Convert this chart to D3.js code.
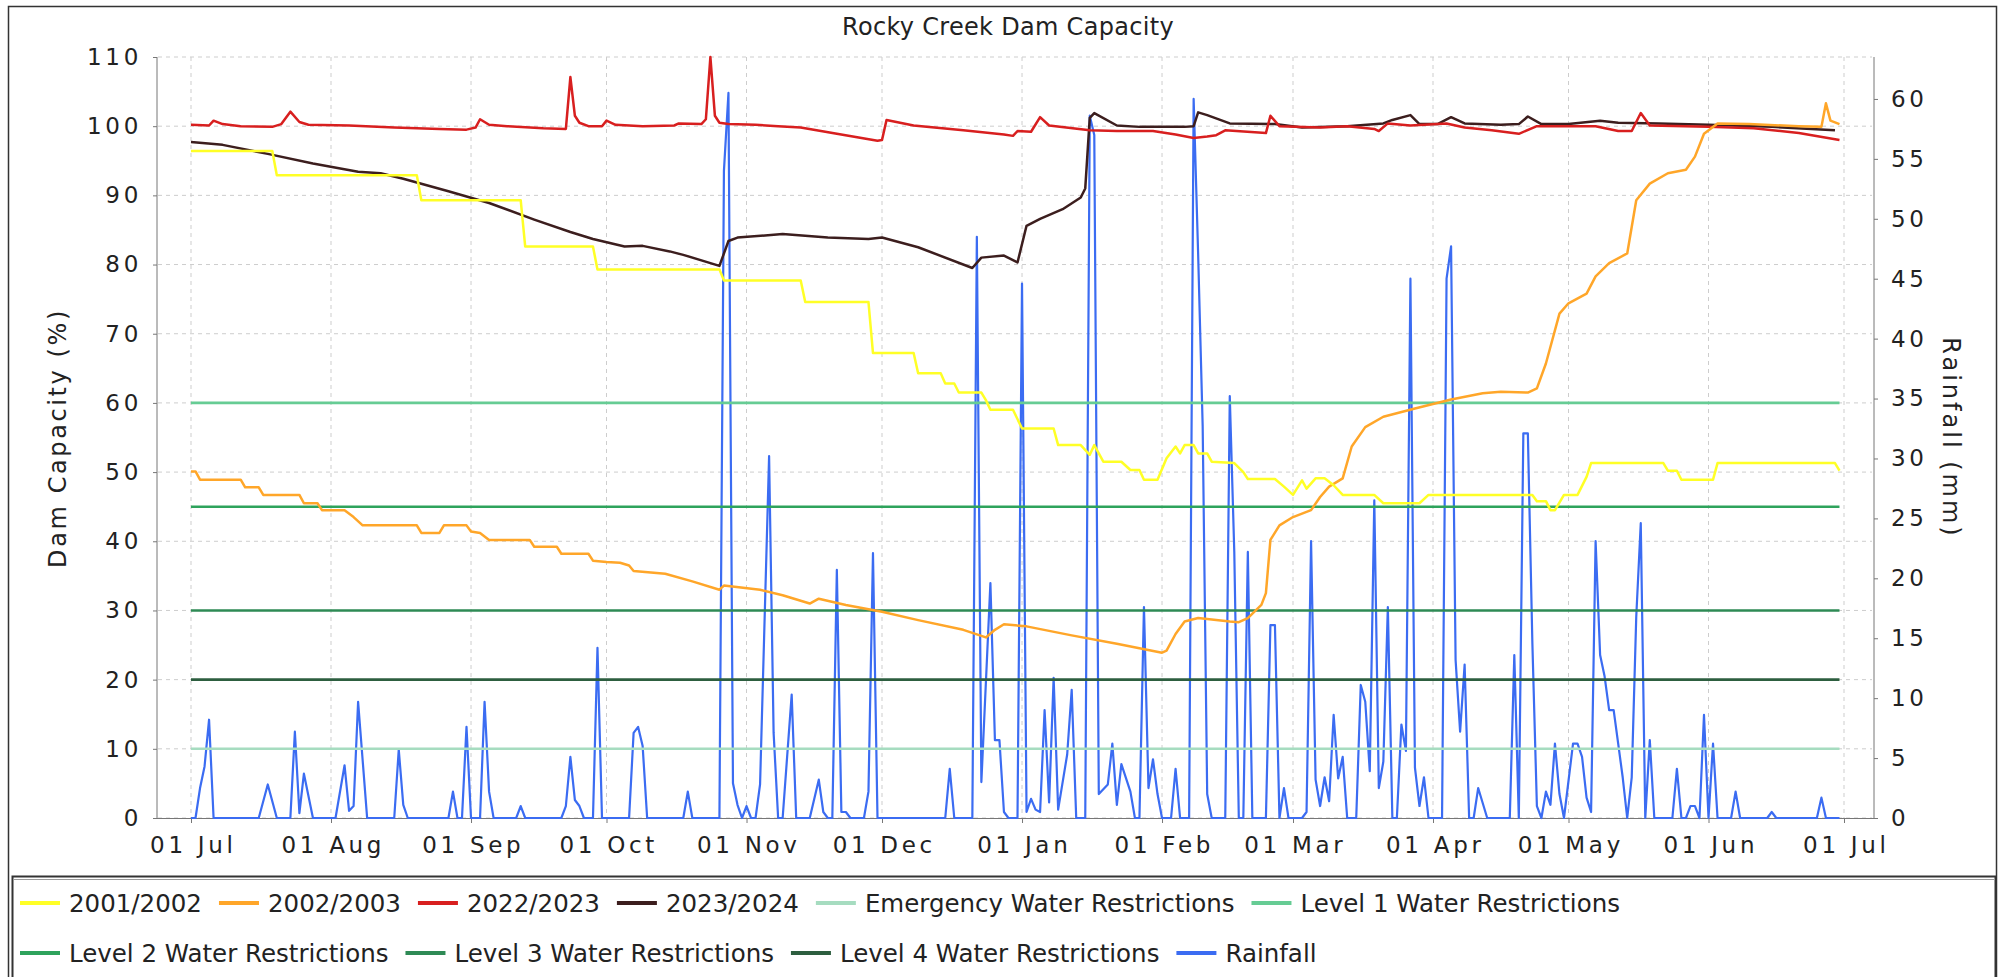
<!DOCTYPE html>
<html>
<head>
<meta charset="utf-8">
<script src="https://cdn.jsdelivr.net/npm/d3@7"></script>
<style>
  body { margin: 0; background: #fff; }
  svg { display: block; font-family: "DejaVu Sans", sans-serif; }
</style>
</head>
<body>
<svg id="chart" width="2010" height="977"></svg>
<script>
// all series are [day since 01 Jul, value]
const capacityTicks = [0, 10, 20, 30, 40, 50, 60, 70, 80, 90, 100, 110];
const rainTicks = [0, 5, 10, 15, 20, 25, 30, 35, 40, 45, 50, 55, 60];

const dam2001 = [[0,96.4],[18,96.4],[19,92.9],[50,92.9],[51,89.3],[73,89.3],[74,82.6],[89,82.6],[90,79.3],[117,79.3],[118,77.7],[135,77.7],[136,74.6],[150,74.6],[151,67.2],[160,67.2],[161,64.3],[166,64.3],[167,62.8],[169,62.8],[170,61.5],[175,61.5],[176,60.4],[177,59.0],[182,59.0],[184,56.3],[191,56.3],[192,53.9],[197,53.9],[199,52.5],[200,53.9],[201,52.7],[202,51.5],[206,51.5],[208,50.3],[210,50.3],[211,48.9],[214,48.9],[216,52.0],[218,53.7],[219,52.7],[220,53.9],[222,53.9],[223,52.7],[225,52.7],[226,51.5],[231,51.3],[233,50.0],[234,49.0],[240,49.0],[242,47.9],[244,46.7],[246,48.8],[247,47.6],[249,49.1],[251,49.1],[253,48.1],[255,46.7],[262,46.7],[264,45.5],[272,45.5],[274,46.7],[297,46.7],[298,45.8],[300,45.8],[301,44.5],[302,44.5],[304,46.7],[307,46.7],[309,49.3],[310,51.3],[326,51.3],[327,50.2],[329,50.2],[330,48.9],[337,48.9],[338,51.3],[364,51.3],[365,50.2]];

const dam2002 = [[0,50.1],[1,50.1],[2,48.9],[11,48.9],[12,47.8],[15,47.8],[16,46.7],[24,46.7],[25,45.5],[28,45.5],[29,44.5],[34,44.5],[36,43.5],[38,42.3],[50,42.3],[51,41.2],[55,41.2],[56,42.3],[61,42.3],[62,41.4],[64,41.2],[66,40.2],[75,40.2],[76,39.2],[81,39.2],[82,38.2],[88,38.2],[89,37.2],[92,37.0],[95,36.9],[97,36.5],[98,35.7],[105,35.3],[111,34.2],[117,33.0],[118,33.6],[126,33.0],[131,32.2],[137,31.0],[139,31.7],[145,30.8],[153,29.8],[161,28.6],[171,27.2],[176,26.1],[178,27.2],[180,28.0],[185,27.7],[195,26.4],[205,25.2],[215,23.9],[216,24.2],[218,26.6],[220,28.4],[223,28.9],[230,28.4],[232,28.3],[234,28.9],[237,30.8],[238,32.5],[239,40.2],[241,42.3],[244,43.5],[248,44.5],[250,46.4],[252,47.9],[255,49.1],[257,53.7],[260,56.5],[264,58.0],[271,59.2],[279,60.5],[286,61.4],[290,61.6],[296,61.5],[298,62.1],[300,65.7],[303,72.9],[305,74.4],[309,75.8],[311,78.3],[314,80.2],[318,81.6],[320,89.3],[323,91.7],[327,93.2],[331,93.7],[333,95.6],[335,98.9],[338,100.4],[345,100.3],[356,100.0],[361,99.9],[362,103.3],[363,100.8],[365,100.3]];

const dam2022 = [[0,100.2],[4,100.1],[5,100.8],[7,100.3],[11,100.0],[18,99.9],[20,100.3],[22,102.1],[24,100.6],[26,100.2],[35,100.1],[45,99.8],[55,99.6],[61,99.5],[63,99.8],[64,101.0],[66,100.2],[70,100.0],[78,99.7],[83,99.6],[84,107.1],[85,101.5],[86,100.5],[88,100.0],[91,100.0],[92,100.8],[94,100.2],[100,100.0],[107,100.1],[108,100.4],[113,100.3],[114,101.0],[115,110.0],[116,101.5],[117,100.5],[119,100.3],[125,100.2],[130,100.0],[135,99.8],[143,98.9],[152,97.9],[153,98.0],[154,100.9],[160,100.1],[171,99.4],[180,98.8],[182,98.6],[183,99.3],[186,99.2],[188,101.3],[190,100.1],[199,99.4],[205,99.3],[213,99.3],[218,98.8],[222,98.3],[225,98.5],[227,98.7],[229,99.4],[238,99.0],[239,101.5],[241,100.0],[250,99.8],[256,100.0],[262,99.6],[263,99.3],[265,100.4],[270,100.1],[278,100.4],[282,99.8],[288,99.4],[294,98.9],[298,100.0],[311,100.0],[316,99.3],[319,99.3],[321,101.9],[323,100.1],[336,99.9],[346,99.7],[356,99.0],[365,98.0]];

const dam2023 = [[0,97.7],[7,97.3],[17,96.0],[27,94.6],[37,93.4],[42,93.2],[47,92.4],[57,90.6],[66,88.9],[76,86.5],[84,84.7],[89,83.7],[96,82.6],[100,82.7],[106,81.9],[109,81.4],[117,79.8],[119,83.4],[121,83.9],[131,84.4],[141,83.9],[150,83.7],[153,83.9],[161,82.5],[173,79.5],[175,81.0],[180,81.3],[183,80.3],[185,85.6],[188,86.6],[193,88.0],[197,89.7],[198,91.0],[199,101.2],[200,101.9],[205,100.1],[210,99.9],[220,99.9],[222,100.0],[223,102.0],[225,101.6],[230,100.4],[240,100.3],[246,99.8],[256,100.0],[264,100.4],[266,100.9],[270,101.6],[272,100.3],[276,100.3],[279,101.3],[282,100.4],[290,100.2],[294,100.3],[296,101.4],[299,100.3],[305,100.3],[312,100.8],[316,100.5],[325,100.4],[336,100.2],[350,99.9],[364,99.4]];

const rainfall = [[0,0],[1,0],[2,2.5],[3,4.3],[4,8.2],[5,0],[15,0],[17,2.8],[19,0],[22,0],[23,7.2],[24,0.4],[25,3.7],[27,0],[32,0],[34,4.4],[35,0.6],[36,1.0],[37,9.7],[39,0],[45,0],[46,5.7],[47,1.1],[48,0],[57,0],[58,2.2],[59,0],[60,0],[61,7.6],[62,0],[64,0],[65,9.7],[66,2.2],[67,0],[72,0],[73,1.0],[74,0],[82,0],[83,1.0],[84,5.1],[85,1.5],[86,1.0],[87,0],[89,0],[90,14.2],[91,0],[97,0],[98,7.1],[99,7.6],[100,6.0],[101,0],[109,0],[110,2.2],[111,0],[117,0],[118,54.0],[119,60.5],[120,2.9],[121,1.1],[122,0],[123,1.0],[124,0],[125,0],[126,2.8],[128,30.2],[129,7.1],[130,0],[131,0],[133,10.3],[134,0],[137,0],[139,3.2],[140,0.5],[141,0],[142,0],[143,20.7],[144,0.5],[145,0.5],[146,0],[149,0],[150,2.2],[151,22.1],[152,0],[167,0],[168,4.1],[169,0],[173,0],[174,48.5],[175,3.0],[177,19.6],[178,6.5],[179,6.5],[180,0.5],[181,0],[183,0],[184,44.6],[185,0.5],[186,1.6],[187,0.7],[188,0.5],[189,9.0],[190,1.3],[191,11.7],[192,0.7],[194,5.3],[195,10.7],[196,0],[198,0],[199,58.6],[200,57.0],[201,2.0],[203,2.8],[204,6.2],[205,1.1],[206,4.5],[208,2.2],[209,0],[210,0],[211,17.6],[212,2.5],[213,4.9],[214,2.0],[215,0],[217,0],[218,4.1],[219,0],[221,0],[222,60.0],[223,47.0],[224,32.7],[225,2.0],[226,0],[229,0],[230,35.2],[231,22.2],[232,0],[233,0],[234,22.2],[235,0],[238,0],[239,16.1],[240,16.1],[241,0],[242,2.5],[243,0],[246,0],[247,0.5],[248,23.1],[249,3.2],[250,1.0],[251,3.4],[252,1.4],[253,8.6],[254,3.3],[255,5.1],[256,0],[258,0],[259,11.1],[260,9.7],[261,3.9],[262,26.5],[263,2.5],[264,4.7],[265,17.6],[266,0],[267,0],[268,7.8],[269,5.6],[270,45.0],[271,4.2],[272,1.0],[273,3.4],[274,0],[277,0],[278,45.0],[279,47.7],[280,13.2],[281,7.2],[282,12.8],[283,0],[284,0],[285,2.5],[287,0],[292,0],[293,13.6],[294,0],[295,32.1],[296,32.1],[297,14.6],[298,1.0],[299,0],[300,2.2],[301,1.1],[302,6.2],[303,2.0],[304,0],[306,6.2],[307,6.2],[308,5.1],[309,1.7],[310,0.5],[311,23.1],[312,13.6],[313,11.8],[314,9.0],[315,9.0],[316,6.2],[317,3.4],[318,0],[319,3.4],[320,16.8],[321,24.6],[322,0],[323,6.5],[324,0],[328,0],[329,4.1],[330,0],[331,0],[332,1.0],[333,1.0],[334,0],[335,8.6],[336,0],[337,6.2],[338,0],[341,0],[342,2.2],[343,0],[349,0],[350,0.5],[351,0],[360,0],[361,1.7],[362,0],[365,0]];

// restriction trigger levels (% capacity)
const levelNames = ["Emergency Water Restrictions", "Level 1 Water Restrictions", "Level 2 Water Restrictions", "Level 3 Water Restrictions", "Level 4 Water Restrictions"];
const levelValues = [10, 60, 45, 30, 20];
const seasonNames = ["2001/2002", "2002/2003", "2022/2023", "2023/2024"];

const colors = {
  "2001/2002": "#ffff26",
  "2002/2003": "#ffa629",
  "2022/2023": "#d81f1f",
  "2023/2024": "#3c1e1e",
  "Emergency Water Restrictions": "#a6dcc0",
  "Level 1 Water Restrictions": "#66cc94",
  "Level 2 Water Restrictions": "#2ea35c",
  "Level 3 Water Restrictions": "#2e8a55",
  "Level 4 Water Restrictions": "#2d5e3f",
  "Rainfall": "#3b6cf2"
};

const svg = d3.select("#chart");
const seasonStart = new Date(2023, 6, 1);
const seasonEnd = new Date(2024, 6, 1);
const day = n => d3.timeDay.offset(seasonStart, n);

const plotLeft = 157, plotRight = 1874, plotTop = 57, plotBottom = 818;
const x = d3.scaleTime().domain([seasonStart, seasonEnd]).range([191, 1844]);
const yCap = d3.scaleLinear().domain([0, 110]).range([plotBottom, plotTop]);
const yRain = d3.scaleLinear().domain([0, 63.5]).range([plotBottom, plotTop]);
const months = d3.timeMonth.range(seasonStart, d3.timeDay.offset(seasonEnd, 1));

// chart frame
svg.append("rect").attr("x", 8.5).attr("y", 6.5).attr("width", 1988).attr("height", 1010)
  .attr("fill", "#fff").attr("stroke", "#333").attr("stroke-width", 1.5);

svg.append("text").attr("x", 1008).attr("y", 35).attr("text-anchor", "middle")
  .attr("font-size", 24).style("letter-spacing", "0.3px").attr("fill", "#222").text("Rocky Creek Dam Capacity");

// grid
let grid = svg.append("g").attr("stroke", "#cdcdcd").attr("stroke-width", 1).attr("stroke-dasharray", "4,4");
months.forEach(m => {
  grid.append("line").attr("x1", x(m)).attr("x2", x(m)).attr("y1", plotTop).attr("y2", plotBottom);
});
capacityTicks.forEach(v => {
  grid.append("line").attr("x1", plotLeft + 1).attr("x2", plotRight - 2).attr("y1", yCap(v)).attr("y2", yCap(v));
});

// axes
function styleAxis(g, ls) {
  g.selectAll("path.domain").remove();
  g.selectAll(".tick line").attr("stroke", "#777");
  g.selectAll(".tick text").attr("fill", "#222").attr("font-size", 23)
    .style("letter-spacing", ls + "px").attr("font-family", "DejaVu Sans");
}
let axL = svg.append("g").attr("transform", `translate(${plotLeft},0)`)
  .call(d3.axisLeft(yCap).tickValues(capacityTicks).tickSize(4).tickPadding(11));
styleAxis(axL, 3.7);
let axR = svg.append("g").attr("transform", `translate(${plotRight},0)`)
  .call(d3.axisRight(yRain).tickValues(rainTicks).tickSize(4).tickPadding(13));
styleAxis(axR, 3.7);
let axB = svg.append("g").attr("transform", `translate(0,${plotBottom})`)
  .call(d3.axisBottom(x).tickValues(months).tickFormat(d3.timeFormat("%d %b")).tickSize(5).tickPadding(14));
styleAxis(axB, 3.7);
axB.selectAll(".tick text").attr("dx", "1.8");

svg.append("line").attr("x1", plotLeft).attr("x2", plotLeft).attr("y1", plotTop).attr("y2", plotBottom).attr("stroke", "#777");
svg.append("line").attr("x1", plotRight).attr("x2", plotRight).attr("y1", plotTop).attr("y2", plotBottom).attr("stroke", "#777");
svg.append("line").attr("x1", plotLeft).attr("x2", plotRight).attr("y1", plotBottom + 0.5).attr("y2", plotBottom + 0.5).attr("stroke", "#777");

svg.append("text").attr("transform", "translate(66,438) rotate(-90)").attr("text-anchor", "middle")
  .attr("font-size", 24).style("letter-spacing", "2.6px").attr("fill", "#222").text("Dam Capacity (%)");
svg.append("text").attr("transform", "translate(1943,438) rotate(90)").attr("text-anchor", "middle")
  .attr("font-size", 24).style("letter-spacing", "3px").attr("fill", "#222").text("Rainfall (mm)");

// series - rainfall underneath, then levels, then seasons (first season on top)
const capLine = d3.line().x(d => x(day(d[0]))).y(d => yCap(d[1]));
const rainLine = d3.line().x(d => x(day(d[0]))).y(d => yRain(d[1]));
let marks = svg.append("g").attr("fill", "none").attr("stroke-linejoin", "round");

marks.append("path").attr("d", rainLine(rainfall)).attr("stroke", colors["Rainfall"]).attr("stroke-width", 2.2);

for (let i = levelValues.length - 1; i >= 0; i--) {
  marks.append("path").attr("d", capLine([[0, levelValues[i]], [365, levelValues[i]]]))
    .attr("stroke", colors[levelNames[i]]).attr("stroke-width", 2.6);
}
const seasonData = [dam2001, dam2002, dam2022, dam2023];
for (let i = seasonData.length - 1; i >= 0; i--) {
  marks.append("path").attr("d", capLine(seasonData[i]))
    .attr("stroke", colors[seasonNames[i]]).attr("stroke-width", 2.5);
}

// legend
let legend = svg.append("g");
legend.append("rect").attr("x", 12.5).attr("y", 876.5).attr("width", 1983).attr("height", 130)
  .attr("fill", "#fff").attr("stroke", "#333").attr("stroke-width", 2);
legend.append("line").attr("x1", 14).attr("x2", 1994).attr("y1", 879.5).attr("y2", 879.5).attr("stroke", "#999");

const legendItems = seasonNames.concat(levelNames, ["Rainfall"]);
let lx = 20, ly = 903;
legendItems.forEach(name => {
  let item = legend.append("g");
  item.append("line").attr("x1", 0).attr("x2", 40).attr("y1", 0).attr("y2", 0)
    .attr("stroke", colors[name]).attr("stroke-width", 4);
  let t = item.append("text").attr("x", 49).attr("y", 9).attr("font-size", 24.5).attr("fill", "#222").text(name);
  let w = 49 + t.node().getComputedTextLength();
  if (lx + w > 1985) { lx = 20; ly += 50; }
  item.attr("transform", `translate(${lx},${ly})`);
  lx += w + 17;
});
</script>
</body>
</html>
